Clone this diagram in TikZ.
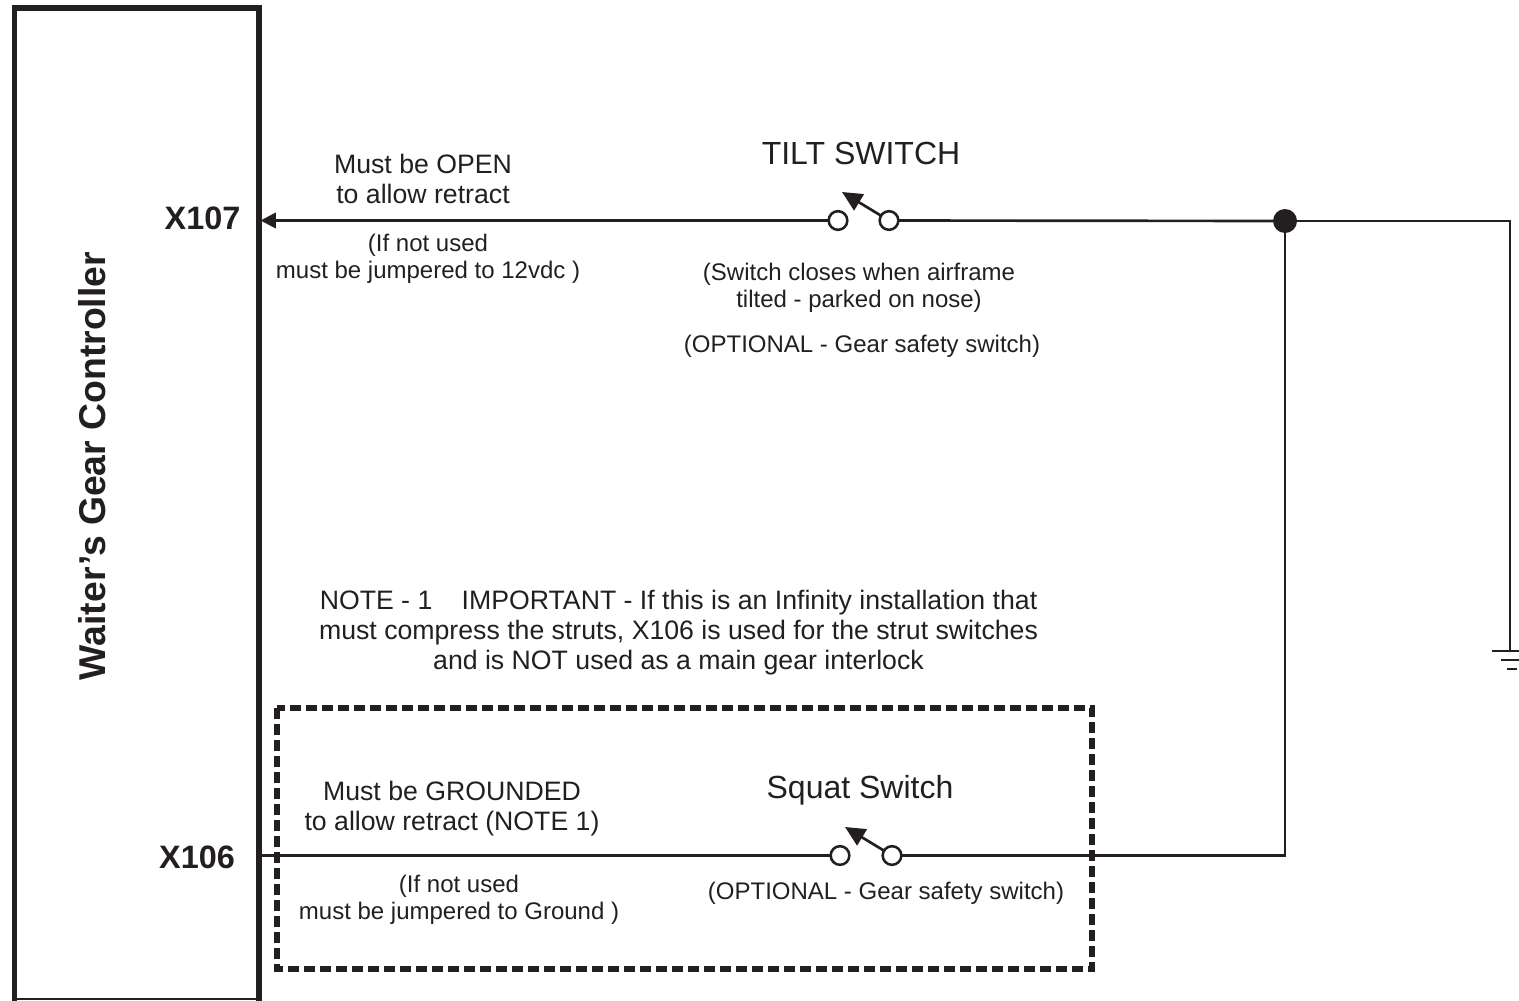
\documentclass[tikz,border=0pt]{standalone}
\usepackage{fontspec}
\setmainfont{Liberation Sans}
\usetikzlibrary{arrows.meta}
\definecolor{inkblack}{RGB}{35,31,32}
\tikzset{every picture/.style={line width=0.75pt}}
\tikzset{
  wire/.style={draw=inkblack,line width=2pt},
  contact/.style={circle,draw=inkblack,line width=1.9pt,fill=white,minimum size=14pt,inner sep=0pt,outer sep=0pt},
  junction/.style={circle,fill=inkblack,minimum size=18pt,inner sep=0pt,outer sep=0pt},
  lever/.style={draw=inkblack,line width=2pt,-{Triangle[length=15pt,width=14pt]}},
  label/.style={text=inkblack,font=\fontsize{18}{20.5}\selectfont,align=center,inner sep=0pt},
  warning/.style={text=inkblack,font=\fontsize{20}{22.5}\selectfont,align=center,inner sep=0pt},
  biglabel/.style={text=inkblack,font=\fontsize{24}{28}\selectfont,align=center,inner sep=0pt},
  pin/.style={text=inkblack,font=\fontsize{24.3}{28}\selectfont\bfseries,inner sep=0pt},
}

\begin{document}
\begin{tikzpicture}[x=0.75pt,y=0.75pt,yscale=-1,xscale=1]
\useasboundingbox (0,0) rectangle (1519,1000);

%Controller box
\draw [draw=inkblack,line width=4pt] (14.5,1001) -- (14.5,8) -- (259,8) -- (259,1001) ;
\draw [draw=inkblack,line width=1.5pt] (14.5,999) -- (259,999) ;
\node [rotate=90,text=inkblack,font=\fontsize{28}{32}\selectfont\bfseries,inner sep=0pt] (ctrl) at (92,466) {Waiter's Gear Controller};

%Optional box
\draw [draw=inkblack,line width=4pt,dash pattern=on 8pt off 4pt] (277,708) rectangle (1092,969) ;

% Pins
\node [pin] (x107) at (202.5,218) {X107};
\node [pin] (x106) at (197,857) {X106};
\coordinate (x107in) at (260.5,220.5);
\coordinate (x106in) at (261,855.5);

% Tilt switch
\node [contact] (tiltl) at (838,220.5) {};
\node [contact] (tiltr) at (889,220.5) {};
\coordinate (tilttip) at (842,192);
\draw [lever] (tiltr) -- (tilttip) ;

% Squat switch
\node [contact] (squatl) at (840,855.5) {};
\node [contact] (squatr) at (892,855.5) {};
\coordinate (squattip) at (845,827);
\draw [lever] (squatr) -- (squattip) ;

% Junction and ground
\node [junction] (dot) at (1285,221) {};
\coordinate (gnd) at (1510,651);
\coordinate (gndal) at (1492,651);
\coordinate (gndar) at (1519,651);
\coordinate (gndbl) at (1501,660);
\coordinate (gndbr) at (1519,660);
\coordinate (gndcl) at (1507,669);
\coordinate (gndcr) at (1517,669);

% Wires
\draw [wire,-{Triangle[length=11.5pt,width=11.5pt]}] (tiltl) -- (x107in) ;
\draw [wire] (tiltr) -- (dot) ;
\draw [wire] (dot) -| (gnd) ;
\draw [wire] (squatl) -- (x106in) ;
\draw [wire] (squatr) -| (dot) ;
\draw [wire] (gndal) -- (gndar) ;
\draw [wire] (gndbl) -- (gndbr) ;
\draw [wire] (gndcl) -- (gndcr) ;

% Text Node
\node [biglabel] (tilttitle) at (861,153) {TILT SWITCH};
\node [warning] (open) at (423,179) {Must be OPEN\\to allow retract};
\node [label] (jump) at (428,259) {(If not used\\must be jumpered to 12vdc )};
\node [label] (closes) at (859,287.5) {(Switch closes when airframe\\tilted - parked on nose)};
\node [label] (optone) at (862,346) {(OPTIONAL - Gear safety switch)};
\node [warning] (note) at (678.5,633) {NOTE - 1\hspace{22pt}IMPORTANT - If this is an Infinity installation that\\must compress the struts, X106 is used for the strut switches\\and is NOT used as a main gear interlock};
\node [biglabel] (squattitle) at (860,790) {Squat Switch};
\node [warning] (grounded) at (452,809) {Must be GROUNDED\\to allow retract (NOTE 1)};
\node [label] (jumpg) at (459,900) {(If not used\\must be jumpered to Ground )};
\node [label] (opttwo) at (886,893) {(OPTIONAL - Gear safety switch)};

\end{tikzpicture}
\end{document}
